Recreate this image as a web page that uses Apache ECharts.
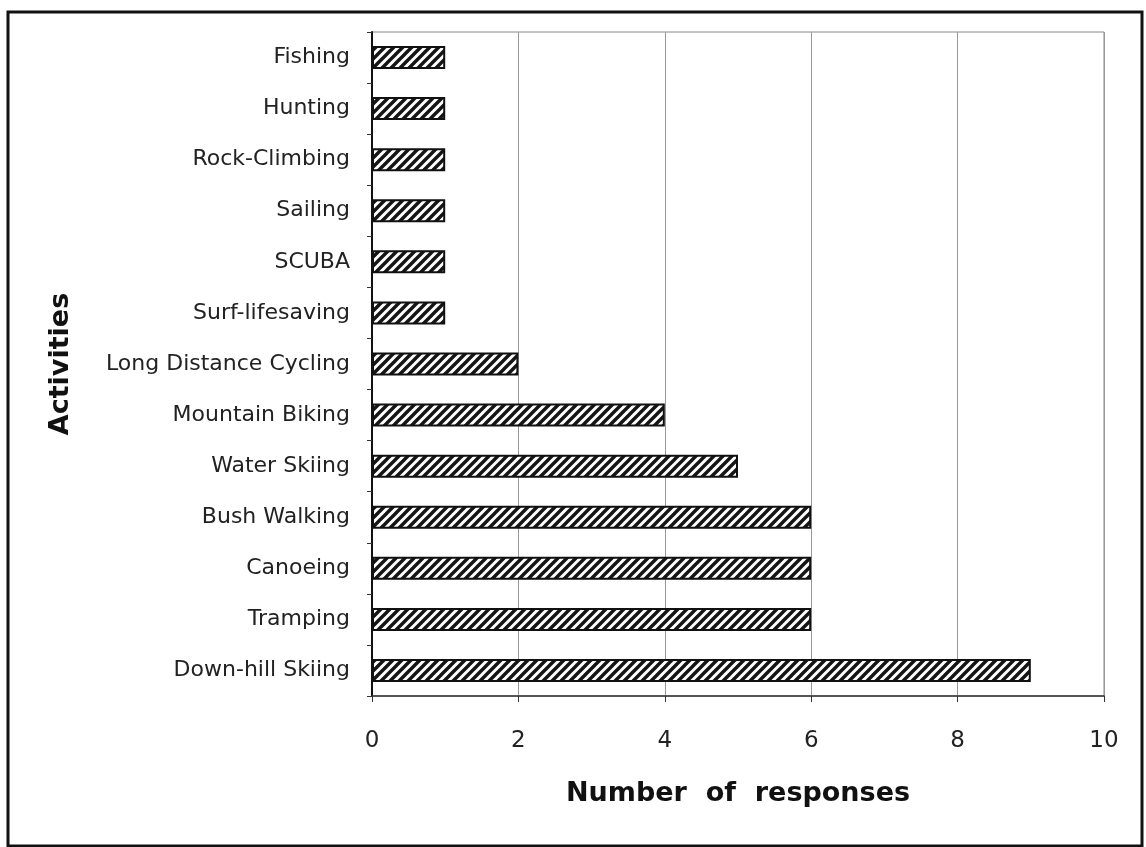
<!DOCTYPE html>
<html>
<head>
<meta charset="utf-8">
<script src="https://cdn.jsdelivr.net/npm/echarts@6/dist/echarts.min.js"></script>
<style>
html, body { margin: 0; padding: 0; background: #fff; }
#chart { width: 1146px; height: 847px; }
</style>
</head>
<body>
<div id="chart"></div>
<script>
// activities, top to bottom as in the figure
const activities = ['Fishing', 'Hunting', 'Rock-Climbing', 'Sailing', 'SCUBA', 'Surf-lifesaving',
  'Long Distance Cycling', 'Mountain Biking', 'Water Skiing', 'Bush Walking', 'Canoeing',
  'Tramping', 'Down-hill Skiing'];
const responses = [1, 1, 1, 1, 1, 1, 2, 4, 5, 6, 6, 6, 9];
const xTicks = [0, 2, 4, 6, 8, 10];

// diagonal hatch fill, "/" stripes that tile cleanly
function hatch() {
  const n = 9;
  const c = document.createElement('canvas');
  c.width = n; c.height = n;
  const g = c.getContext('2d');
  g.fillStyle = '#fff';
  g.fillRect(0, 0, n, n);
  g.strokeStyle = '#151515';
  g.lineWidth = 3.4;
  g.beginPath();
  g.moveTo(-2, n + 2); g.lineTo(n + 2, -2);
  g.moveTo(-2, 2); g.lineTo(2, -2);
  g.moveTo(n - 2, n + 2); g.lineTo(n + 2, n - 2);
  g.stroke();
  return c;
}

const chart = echarts.init(document.getElementById('chart'));
const fontFam = 'DejaVu Sans, Verdana, sans-serif';

const option = {
  animation: false,
  grid: { left: 372, right: 42, top: 32, bottom: 151, show: true, borderColor: '#888', borderWidth: 1 },
  xAxis: {
    type: 'value', min: 0, max: 10, interval: 2,
    name: 'Number  of  responses', nameLocation: 'middle', nameGap: 84,
    nameTextStyle: { fontFamily: fontFam, fontWeight: 'bold', fontSize: 27, color: '#111' },
    axisLine: { show: true, lineStyle: { color: '#333', width: 1.5 } },
    axisTick: { show: true, length: 6, lineStyle: { color: '#333' } },
    axisLabel: {
      fontFamily: fontFam, fontSize: 23, color: '#222', margin: 34,
      formatter: v => xTicks.includes(v) ? String(v) : ''
    },
    splitLine: { show: true, lineStyle: { color: '#999', width: 1 } }
  },
  yAxis: {
    type: 'category', data: activities, inverse: true,
    name: 'Activities', nameLocation: 'middle', nameGap: 298, nameRotate: 90,
    nameTextStyle: { fontFamily: fontFam, fontWeight: 'bold', fontSize: 27, color: '#111' },
    axisLine: { show: true, lineStyle: { color: '#111', width: 2 } },
    axisTick: { show: true, length: 5, lineStyle: { color: '#333' } },
    axisLabel: { fontFamily: fontFam, fontSize: 22, color: '#222', margin: 22 },
    splitLine: { show: false }
  },
  series: [{
    type: 'bar', data: responses, barWidth: 23,
    itemStyle: { color: { image: hatch(), repeat: 'repeat' }, borderColor: '#111', borderWidth: 2 }
  }],
  graphic: [{
    type: 'rect', shape: { x: 8, y: 12, width: 1134, height: 834 },
    style: { fill: 'none', stroke: '#111', lineWidth: 3 }, silent: true
  }]
};
chart.setOption(option);
</script>
</body>
</html>
